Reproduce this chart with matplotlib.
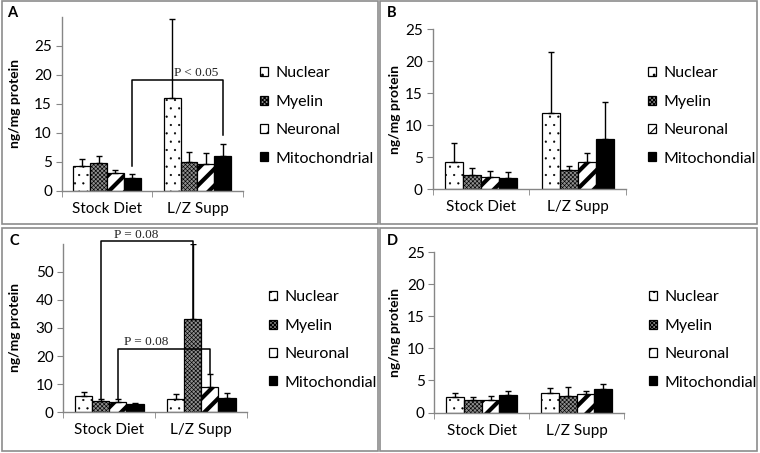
import numpy as np
import matplotlib
matplotlib.use("Agg")
import matplotlib.pyplot as plt
from matplotlib.patches import Rectangle

plt.rcParams.update({
    "font.family": ["Lato", "DejaVu Sans"],
    "font.size": 11,
    "hatch.linewidth": 0.8,
})

# --- DATA ---
categories = ["Stock Diet", "L/Z Supp"]
series_a = ["Nuclear", "Myelin", "Neuronal", "Mitochondrial"]
series_bcd = ["Nuclear", "Myelin", "Neuronal", "Mitochondial"]

# means per series: [Stock Diet, L/Z Supp]
a_means = [[4.2, 16.0], [4.7, 5.0], [3.0, 4.6], [2.2, 5.9]]
a_errs = [[1.3, 13.5], [1.3, 1.6], [0.5, 1.9], [0.7, 2.1]]

b_means = [[4.2, 12.0], [2.3, 3.0], [2.0, 4.2], [1.8, 7.8]]
b_errs = [[3.1, 9.4], [1.1, 0.7], [0.9, 1.5], [0.9, 5.9]]

c_means = [[5.7, 4.8], [3.9, 33.3], [3.5, 9.0], [2.8, 4.9]]
c_errs = [[1.6, 1.8], [0.7, 26.5], [1.1, 4.7], [0.6, 1.8]]

d_means = [[2.4, 3.05], [2.0, 2.5], [1.9, 2.9], [2.8, 3.6]]
d_errs = [[0.7, 0.75], [0.4, 1.4], [0.6, 0.5], [0.6, 0.9]]

# significance brackets: (series idx, left leg bottom, bar level, right leg bottom, text, text x, text y)
a_brackets = [(3, 4.3, 19.0, 9.6, "P < 0.05", 0.99, 19.3)]
c_brackets = [(1, 4.6, 60.8, 33.3, "P = 0.08", 0.29, 60.9),
              (2, 4.6, 22.6, 13.7, "P = 0.08", 0.40, 23.0)]

# bar styles: facecolor, hatch, hatch linewidth
styles = [("white", "..", 0.35),
          ("#8f8f8f", "xxxxxxxx", 0.45),
          ("white", "//", 3.0),
          ("black", "", 0.8)]

W, H = 760, 453
BAR_W = 0.186
AXIS_GREY = "#868686"


def px_rect(x0, y0, x1, y1):
    """pixel box (top-left origin) -> figure fraction [l, b, w, h]"""
    return [x0 / W, 1 - y1 / H, (x1 - x0) / W, (y1 - y0) / H]


def draw_panel(ax, means, errs, names, ylim, yticks, legend_xy, ylab_x,
               brackets=()):
    x = np.arange(len(categories))
    for i, name in enumerate(names):
        face, hatch, hlw = styles[i]
        xi = x + (i - 1.5) * BAR_W
        bars = ax.bar(xi, means[i], width=BAR_W, color=face, edgecolor="black",
                      linewidth=0.9, hatch=hatch, label=name, zorder=2)
        for b in bars:
            if hasattr(b, "set_hatch_linewidth"):
                b.set_hatch_linewidth(hlw)
        ax.errorbar(xi, means[i], yerr=[np.zeros(len(x)), errs[i]], fmt="none",
                    ecolor="black", elinewidth=1, capsize=2.5, capthick=1, zorder=3)

    for si, yl, yb, yr, txt, tx, ty in brackets:
        xl = 0 + (si - 1.5) * BAR_W
        xr = 1 + (si - 1.5) * BAR_W
        ax.plot([xl, xl, xr, xr], [yl, yb, yb, yr], color="black", lw=1.1,
                clip_on=False, zorder=4)
        ax.text(tx, ty, txt, ha="center", va="bottom", fontsize=9.5,
                family="Liberation Serif", color="#222222", zorder=5)

    ax.set_xlim(-0.5, 1.5)
    ax.set_ylim(*ylim)
    ax.set_yticks(yticks)
    ax.set_xticks(x)
    ax.set_xticklabels(categories, fontsize=11)
    ax.set_xticks([-0.5, 0.5, 1.5], minor=True)
    ax.tick_params(axis="x", which="major", length=0, pad=8)
    ax.tick_params(axis="x", which="minor", length=4, color=AXIS_GREY)
    ax.tick_params(axis="y", length=4, color=AXIS_GREY, pad=3, labelsize=11)

    for s in ["top", "right"]:
        ax.spines[s].set_visible(False)
    for s in ["left", "bottom"]:
        ax.spines[s].set_color(AXIS_GREY)
        ax.spines[s].set_linewidth(1)

    ax.set_ylabel("ng/mg protein", fontweight="bold", fontsize=10, va="center")
    ax.yaxis.set_label_coords(ylab_x, 0.5)

    lx, ly = legend_xy
    ax.legend(loc="center left", bbox_to_anchor=(lx / W, 1 - ly / H),
              bbox_transform=ax.figure.transFigure, frameon=False, fontsize=11.5,
              handlelength=0.5, handleheight=0.5, handletextpad=0.45,
              labelspacing=0.9, borderpad=0, borderaxespad=0)


fig = plt.figure(figsize=(7.6, 4.53), dpi=100)

# panel frames
for (x0, y0, x1, y1) in [(2, 1, 378, 224), (380, 1, 757, 224),
                         (2, 228, 378, 451), (380, 228, 757, 451)]:
    fig.add_artist(Rectangle((x0 / W, 1 - y1 / H), (x1 - x0) / W, (y1 - y0) / H,
                             transform=fig.transFigure, fill=False,
                             edgecolor="#8c8c8c", linewidth=1.2))

ax_a = fig.add_axes(px_rect(61.7, 16.5, 242.7, 190.5))
ax_b = fig.add_axes(px_rect(432.5, 29.3, 626.0, 189.3))
ax_c = fig.add_axes(px_rect(63.3, 243.7, 247.3, 412.2))
ax_d = fig.add_axes(px_rect(434.3, 252.0, 624.3, 412.5))

draw_panel(ax_a, a_means, a_errs, series_a, (0, 30), range(0, 30, 5),
           (260, 116), -0.258, a_brackets)
draw_panel(ax_b, b_means, b_errs, series_bcd, (0, 25), range(0, 30, 5),
           (648, 116), -0.194)
draw_panel(ax_c, c_means, c_errs, series_bcd, (0, 60), range(0, 60, 10),
           (269, 340), -0.2625, c_brackets)
draw_panel(ax_d, d_means, d_errs, series_bcd, (0, 25), range(0, 30, 5),
           (649, 340), -0.207)

for letter, (px, py) in zip("ABCD", [(7, 13), (387, 13), (9, 241), (387, 241)]):
    fig.text(px / W, 1 - py / H, letter, fontweight="bold", fontsize=10.5,
             ha="left", va="center")

fig.savefig("out.png", dpi=100)
